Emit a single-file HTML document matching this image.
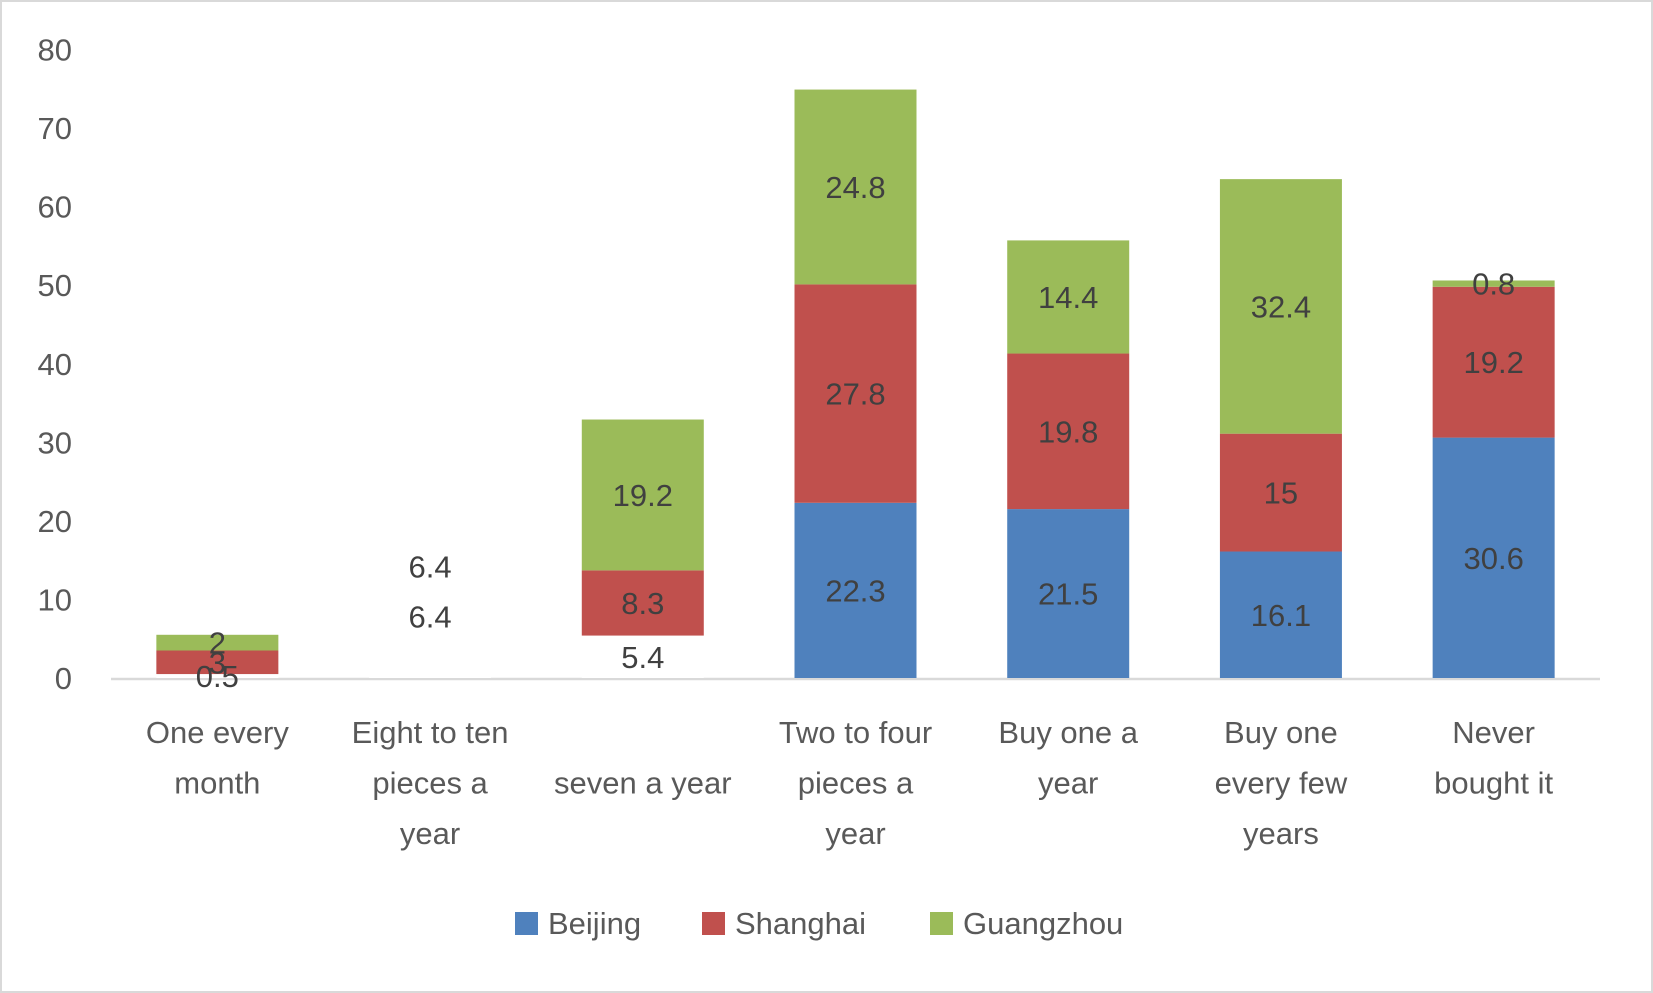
<!DOCTYPE html>
<html><head><meta charset="utf-8"><style>
html,body{margin:0;padding:0;background:#fff;}
#wrap{position:relative;width:1653px;height:993px;box-sizing:border-box;border:2px solid #d9d9d9;background:#fff;}
svg text{font-family:"Liberation Sans",sans-serif;}
</style></head><body>
<div id="wrap">
<svg id="chart" width="1653" height="993" style="position:absolute;left:-2px;top:-2px"></svg>
</div>
<script>
const categories = [["One every","month"],["Eight to ten","pieces a","year"],["","seven a year"],["Two to four","pieces a","year"],["Buy one a","year"],["Buy one","every few","years"],["Never","bought it"]];
const beijing = [0.5, 4.6, 5.4, 22.3, 21.5, 16.1, 30.6];
const shanghai = [3, 6.4, 8.3, 27.8, 19.8, 15, 19.2];
const guangzhou = [2, 6.4, 19.2, 24.8, 14.4, 32.4, 0.8];
const beijingLabels = ["0.5", "", "5.4", "22.3", "21.5", "16.1", "30.6"];
const shanghaiLabels = ["3", "6.4", "8.3", "27.8", "19.8", "15", "19.2"];
const guangzhouLabels = ["2", "6.4", "19.2", "24.8", "14.4", "32.4", "0.8"];
const hiddenBars = [[true,false,false],[true,true,true],[true,false,false],[false,false,false],[false,false,false],[false,false,false],[false,false,false]];
const yTicks = [0,10,20,30,40,50,60,70,80];
const seriesNames = ["Beijing","Shanghai","Guangzhou"];

const NS="http://www.w3.org/2000/svg";
const svg=document.getElementById('chart');
const x0=111,x1=1600,yBase=678,yTop=49.5,yMax=80;
const bw=(x1-x0)/categories.length, barW=122;
const y=v=>yBase-(v/yMax)*(yBase-yTop);
const cx=i=>x0+bw*(i+0.5);
const colors=["#4f81bd","#c0504d","#9bbb59"];
function mk(tag,attrs){const e=document.createElementNS(NS,tag);for(const k in attrs)e.setAttribute(k,attrs[k]);svg.appendChild(e);return e;}

yTicks.forEach(t=>{
  const e=mk('text',{x:72,y:y(t)+11,'text-anchor':'end','font-size':31,fill:'#595959'});
  
  
  e.textContent=t;
});
const ax=mk('line',{x1:x0,x2:x1,y1:yBase+1,y2:yBase+1,stroke:'#d9d9d9','stroke-width':2.5});



const series=[beijing,shanghai,guangzhou];
const labels=[beijingLabels,shanghaiLabels,guangzhouLabels];
const labelsLayer=[];
categories.forEach((cat,i)=>{
  let base=0;
  series.forEach((s,si)=>{
    const v=s[i];
    const r=mk('rect',{x:cx(i)-barW/2,y:y(base+v),width:barW,height:y(base)-y(base+v),fill:hiddenBars[i][si]?'#ffffff':colors[si]});
    
    
    labelsLayer.push([labels[si][i],cx(i),y(base+v/2)]);
    base+=v;
  });
  cat.forEach((ln,li)=>{
    if(!ln)return;
    const e=mk('text',{x:cx(i),y:yBase+65+li*50.5,'text-anchor':'middle','font-size':31,fill:'#595959'});
    
    
    e.textContent=ln;
  });
});
labelsLayer.forEach(([t,x,yy])=>{
  if(!t)return;
  const e=mk('text',{x:x,y:yy+11,'text-anchor':'middle','font-size':31,fill:'#404040'});
  
  
  e.textContent=t;
});
const legX=[515,702,930];
seriesNames.forEach((n,i)=>{
  const r=mk('rect',{x:legX[i],y:912,width:23,height:23,fill:colors[i]});
  
  
  const t=mk('text',{x:legX[i]+33,y:934,'font-size':31,fill:'#595959'});
  
  
  t.textContent=n;
});
</script>
</body></html>
